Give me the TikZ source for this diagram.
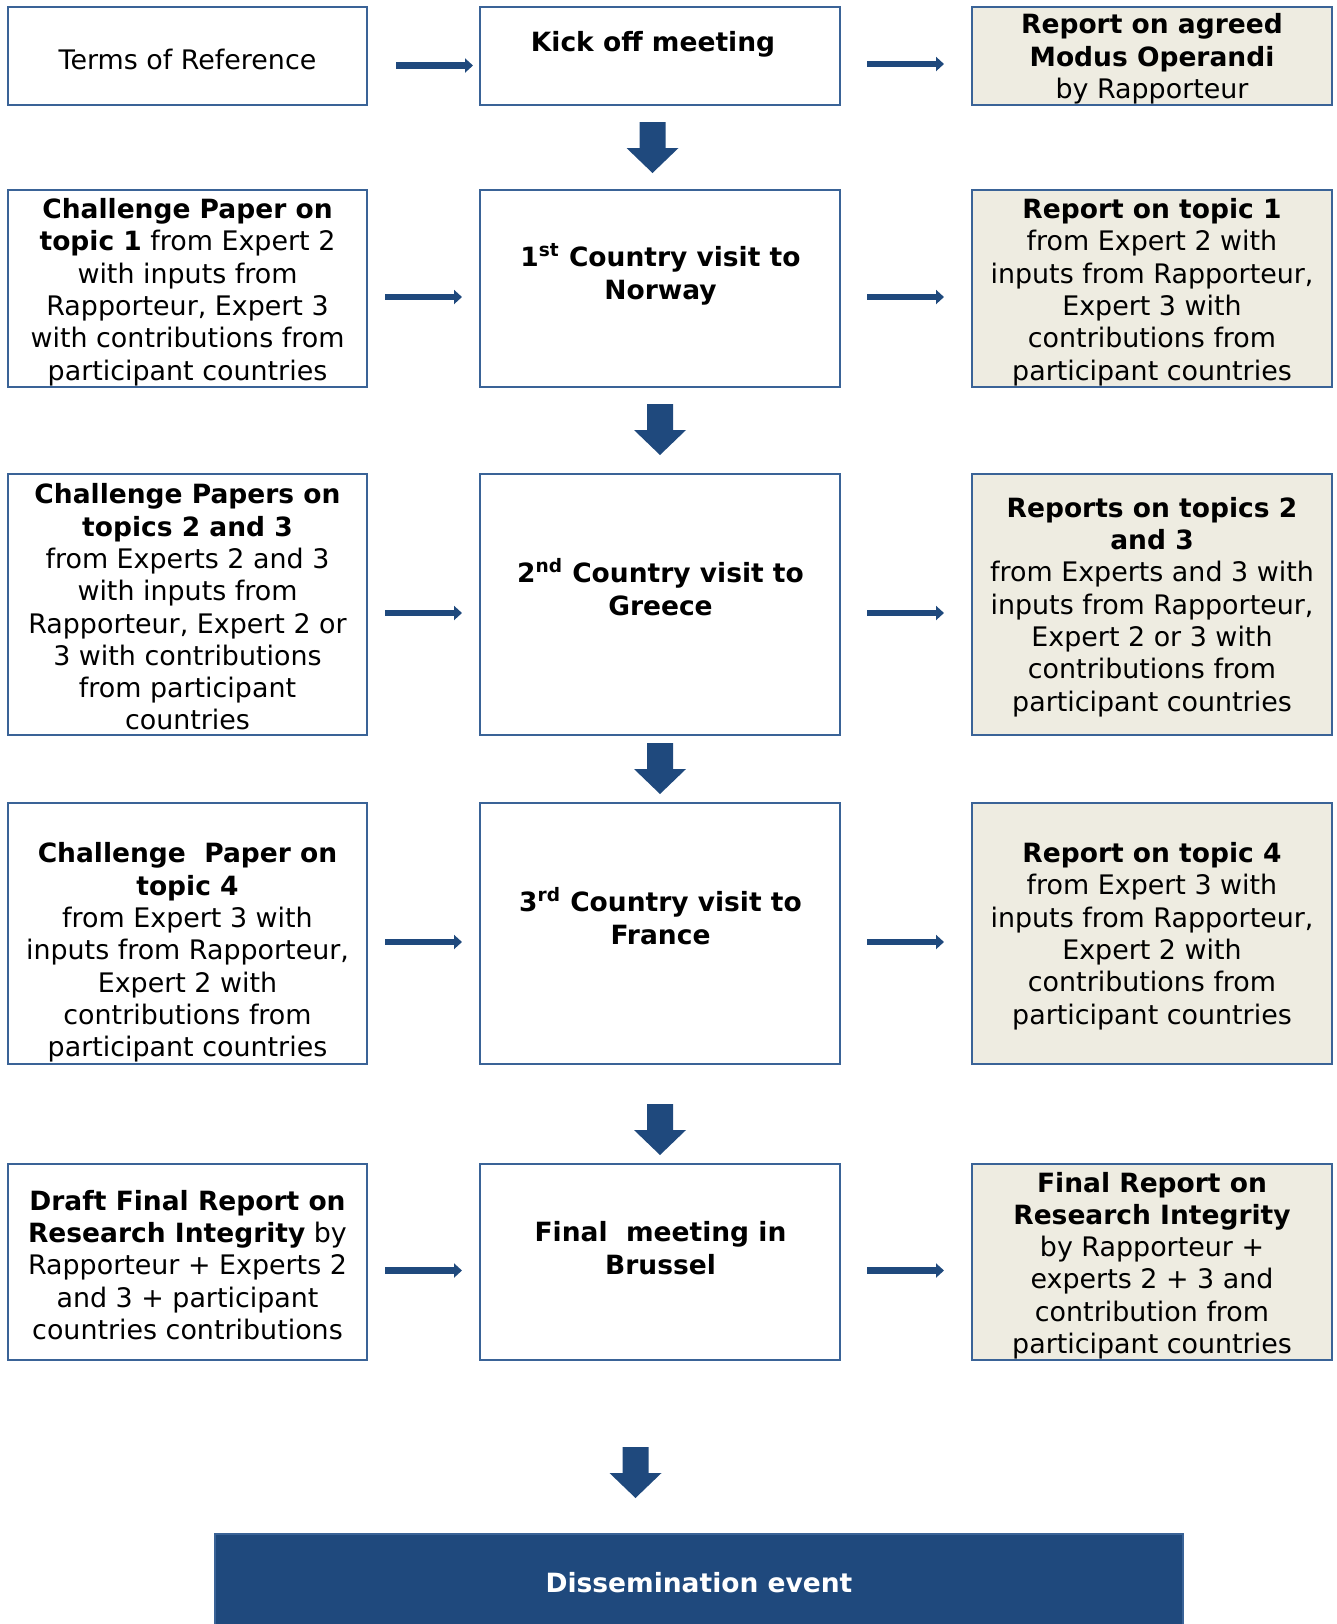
\documentclass[tikz,border=0pt]{standalone}
\usepackage{fontspec}
\setmainfont{DejaVu Sans}[BoldFeatures={Scale=0.985}]
\usetikzlibrary{arrows.meta,calc}
\definecolor{bordc}{RGB}{58,99,151}
\definecolor{arrc}{RGB}{31,73,125}
\definecolor{beige}{RGB}{238,236,225}
\begin{document}
\begin{tikzpicture}[x=0.5pt,y=-0.5pt,
  box/.style={draw=bordc, line width=0.8pt, inner sep=0pt, outer sep=0pt},
  wbox/.style={box, fill=white},
  gbox/.style={box, fill=beige},
  lcol/.style={minimum width=179.5pt},
  ccol/.style={minimum width=180pt},
  rowa/.style={minimum height=49pt},
  rowb/.style={minimum height=98.5pt},
  rowc/.style={minimum height=130.5pt},
  rowe/.style={minimum height=98pt},
  txt/.style={align=center, inner sep=0pt, font=\fontsize{13.45pt}{16.15pt}\selectfont},
  harr/.style={draw=arrc, line width=3.25pt, -{Triangle[length=4pt,width=7pt]}},
  pics/blockdown/.style={code={\fill[arrc] (-13,0) -- (13,0) -- (13,26) -- (26,26) -- (0,51) -- (-26,26) -- (-13,26) -- cycle;}}
]
\useasboundingbox (0,0) rectangle (1337,1624);

% row 1
\node[wbox, lcol, rowa] (b11) at (187.5,56) {};
\node[wbox, ccol, rowa] (b12) at (660,56) {};
\node[gbox, ccol, rowa] (b13) at (1152,56) {};
% row 2
\node[wbox, lcol, rowb] (b21) at (187.5,288.5) {};
\node[wbox, ccol, rowb] (b22) at (660,288.5) {};
\node[gbox, ccol, rowb] (b23) at (1152,288.5) {};
% row 3
\node[wbox, lcol, rowc] (b31) at (187.5,604.5) {};
\node[wbox, ccol, rowc] (b32) at (660,604.5) {};
\node[gbox, ccol, rowc] (b33) at (1152,604.5) {};
% row 4
\node[wbox, lcol, rowc] (b41) at (187.5,933.5) {};
\node[wbox, ccol, rowc] (b42) at (660,933.5) {};
\node[gbox, ccol, rowc] (b43) at (1152,933.5) {};
% row 5
\node[wbox, lcol, rowe] (b51) at (187.5,1262) {};
\node[wbox, ccol, rowe] (b52) at (660,1262) {};
\node[gbox, ccol, rowe] (b53) at (1152,1262) {};
% dissemination
\node[box, fill=arrc, minimum width=484pt, minimum height=48.5pt, text=white, font=\fontsize{13.45pt}{16.15pt}\selectfont\bfseries] (dis) at (699,1582.5) {Dissemination event};

% texts
\node[txt] (t11) at (187.5,59) {Terms of Reference};
\node[txt] (t12) at (653,44) {\textbf{Kick off meeting}};
\node[txt] (t13) at (1152,59) {\textbf{Report on agreed}\\\textbf{Modus Operandi}\\by Rapporteur};

\node[txt] (t21) at (187.5,292) {\textbf{Challenge Paper on}\\\textbf{topic 1} from Expert 2\\with inputs from\\Rapporteur, Expert 3\\with contributions from\\participant countries};
\node[txt] (t22) at (660.5,274) {\textbf{1\textsuperscript{st} Country visit to}\\\textbf{Norway}};
\node[txt] (t23) at (1152,292) {\textbf{Report on topic 1}\\from Expert 2 with\\inputs from Rapporteur,\\Expert 3 with\\contributions from\\participant countries};

\node[txt] (t31) at (187.5,607) {\textbf{Challenge Papers on}\\\textbf{topics 2 and 3}\\from Experts 2 and 3\\with inputs from\\Rapporteur, Expert 2 or\\3 with contributions\\from participant\\countries};
\node[txt] (t32) at (660.5,587) {\textbf{2\textsuperscript{nd} Country visit to}\\\textbf{Greece}};
\node[txt] (t33) at (1152,607) {\textbf{Reports on topics 2}\\\textbf{and 3}\\from Experts and 3 with\\inputs from Rapporteur,\\Expert 2 or 3 with\\contributions from\\participant countries};

\node[txt] (t41) at (187.5,952.5) {\textbf{Challenge\ \ Paper on}\\\textbf{topic 4}\\from Expert 3 with\\inputs from Rapporteur,\\Expert 2 with\\contributions from\\participant countries};
\node[txt] (t42) at (660.5,916) {\textbf{3\textsuperscript{rd} Country visit to}\\\textbf{France}};
\node[txt] (t43) at (1152,936) {\textbf{Report on topic 4}\\from Expert 3 with\\inputs from Rapporteur,\\Expert 2 with\\contributions from\\participant countries};

\node[txt] (t51) at (187.5,1265) {\textbf{Draft Final Report on}\\\textbf{Research Integrity} by\\Rapporteur + Experts 2\\and 3 + participant\\countries contributions};
\node[txt] (t52) at (660.5,1248) {\textbf{Final\ \ meeting in}\\\textbf{Brussel}};
\node[txt] (t53) at (1152,1265.5) {\textbf{Final Report on}\\\textbf{Research Integrity}\\by Rapporteur +\\experts 2 + 3 and\\contribution from\\participant countries};

% horizontal arrows
\draw[harr] ($(b11.east)+(29,9.5)$) -- ($(b12.west)+(-7,9.5)$);
\draw[harr] ($(b12.east)+(27,8)$) -- ($(b13.west)+(-28,8)$);
\foreach \r in {2,3,4,5}{
  \draw[harr] ($(b\r1.east)+(18,8.5)$) -- ($(b\r2.west)+(-18,8.5)$);
  \draw[harr] ($(b\r2.east)+(27,8.5)$) -- ($(b\r3.west)+(-28,8.5)$);
}

% block down arrows
\pic (d1) at ($(b12.south)+(-7.5,17)$) {blockdown};
\pic (d2) at ($(b22.south)+(0,17)$) {blockdown};
\pic (d3) at ($(b32.south)+(0,8)$) {blockdown};
\pic (d4) at ($(b42.south)+(0,40)$) {blockdown};
\pic (d5) at ($(b52.south)+(-24.5,87)$) {blockdown};
\end{tikzpicture}
\end{document}
